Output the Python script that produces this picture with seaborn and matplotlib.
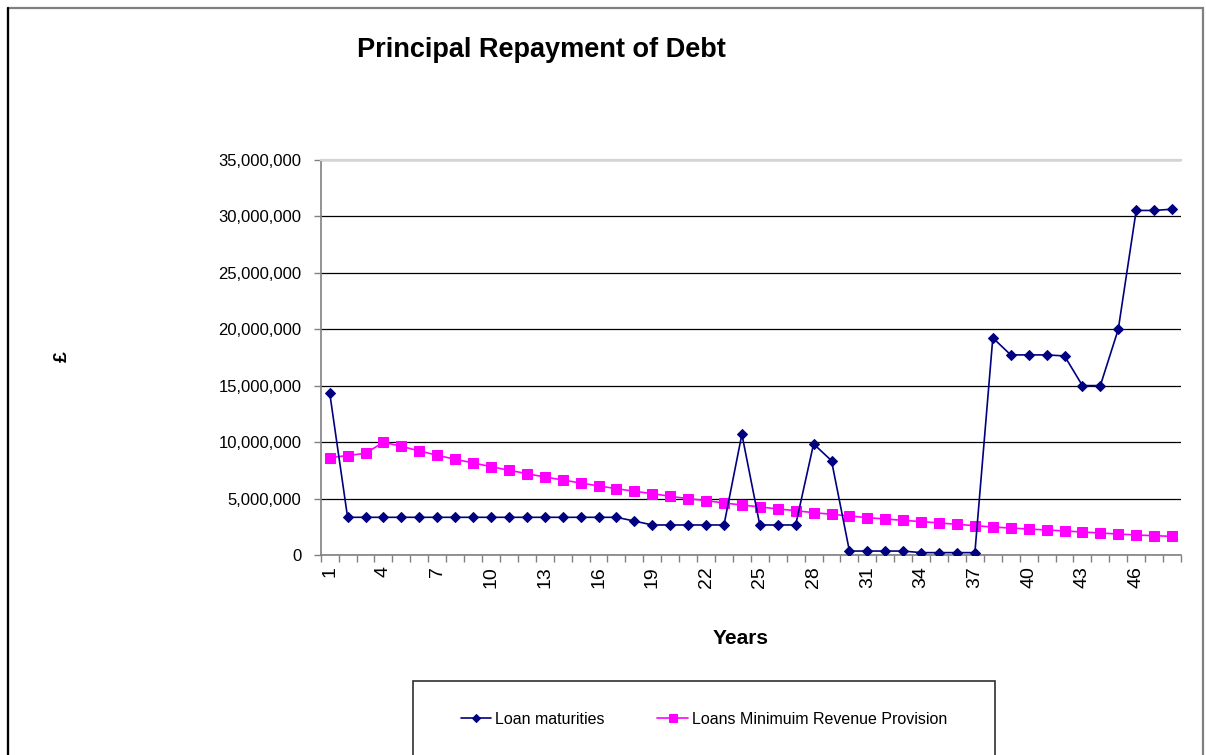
import numpy as np
import pandas as pd
import matplotlib
matplotlib.use('Agg')
import matplotlib.pyplot as plt
import seaborn as sns
from matplotlib.patches import Rectangle
from matplotlib.ticker import FuncFormatter, MultipleLocator

# data (pounds)
years = list(range(1, 49))
loan_maturities = [
    14390000, 3340000, 3340000, 3340000, 3340000, 3340000, 3340000, 3340000,
    3340000, 3340000, 3340000, 3340000, 3340000, 3340000, 3340000, 3340000,
    3340000, 3010000, 2660000, 2660000, 2660000, 2660000, 2660000, 10700000,
    2660000, 2660000, 2660000, 9840000, 8360000, 350000, 350000, 350000,
    350000, 210000, 210000, 210000, 210000, 19240000, 17730000, 17730000,
    17730000, 17640000, 15010000, 15010000, 20000000, 30530000, 30530000, 30640000,
]
loans_mrp = [
    8630000, 8810000, 9010000, 9990000, 9630000, 9220000, 8840000, 8480000,
    8160000, 7830000, 7510000, 7210000, 6910000, 6650000, 6380000, 6120000,
    5880000, 5640000, 5440000, 5200000, 4990000, 4820000, 4610000, 4430000,
    4260000, 4080000, 3930000, 3750000, 3610000, 3460000, 3310000, 3190000,
    3070000, 2960000, 2840000, 2720000, 2600000, 2480000, 2390000, 2300000,
    2220000, 2130000, 2040000, 1950000, 1860000, 1770000, 1710000, 1650000,
]
series_names = ['Loan maturities', 'Loans Minimuim Revenue Provision']
tick_years = [1, 4, 7, 10, 13, 16, 19, 22, 25, 28, 31, 34, 37, 40, 43, 46]

df1 = pd.DataFrame({'Year': years, 'Value': loan_maturities})
df2 = pd.DataFrame({'Year': years, 'Value': loans_mrp})

sns.set_style('white')
plt.rcParams['font.family'] = ['Liberation Sans', 'DejaVu Sans']
plt.rcParams['text.color'] = 'black'

W, H = 1206, 755
fig = plt.figure(figsize=(W / 100, H / 100), dpi=100)
ax = fig.add_axes([320.7 / W, 1 - 555 / H, (1181 - 320.7) / W, (555 - 160) / H])

sns.lineplot(data=df1, x='Year', y='Value', ax=ax, color='#000080', marker='D',
             markersize=5, markeredgecolor='#000080', linewidth=1.2,
             label=series_names[0], zorder=4)
sns.lineplot(data=df2, x='Year', y='Value', ax=ax, color='#FF00FF', marker='s',
             markersize=6.5, markeredgecolor='#FF00FF', linewidth=1.2,
             label=series_names[1], zorder=3)

ax.set_xlim(0.5, 48.5)
ax.set_ylim(0, 35000000)
ax.yaxis.set_major_locator(MultipleLocator(5000000))
ax.yaxis.set_major_formatter(FuncFormatter(lambda v, p: f'{int(v):,}'))
ax.set_xticks(tick_years)
ax.set_xticklabels([str(t) for t in tick_years], rotation=90, fontsize=14)
ax.xaxis.set_minor_locator(MultipleLocator(1, offset=0.5))
ax.tick_params(axis='x', which='major', length=0, pad=8, labelcolor='black')
ax.tick_params(axis='x', which='minor', length=5, width=1, color='#808080', direction='out', bottom=True)
ax.tick_params(axis='y', which='major', length=5, width=1, color='#808080', direction='out', left=True,
               labelsize=12, pad=9, labelcolor='black')
ax.set_xlabel('')
ax.set_ylabel('')

ax.yaxis.grid(True, color='black', linewidth=0.9)
gl = ax.get_ygridlines()
gl[0].set_visible(False)
gl[-1].set_visible(False)

for side in ['left', 'bottom']:
    ax.spines[side].set_color('#808080')
    ax.spines[side].set_linewidth(1.2)
ax.spines['top'].set_color('#d4d4d4')
ax.spines['top'].set_linewidth(1.6)
ax.spines['right'].set_visible(False)

fig.text(541 / W, 1 - 50 / H, 'Principal Repayment of Debt', ha='center', va='center',
         fontsize=19.5, fontweight='bold', color='black')
fig.text(741 / W, 1 - 638 / H, 'Years', ha='center', va='center', fontsize=15, fontweight='bold',
         color='black')
fig.text(62 / W, 1 - 357 / H, '£', ha='center', va='center', fontsize=14, fontweight='bold',
         rotation=90, color='black')

# outer chart frame and legend box
fig.patches.append(Rectangle((8 / W, -0.05), (1203 - 8) / W, 1.05 - 8 / H, transform=fig.transFigure,
                             fill=False, edgecolor='#808080', linewidth=1.6))
fig.add_artist(plt.Line2D([7.5 / W, 7.5 / W], [-0.05, 1 - 8 / H], transform=fig.transFigure,
                          color='black', linewidth=1.6))
fig.patches.append(Rectangle((413 / W, -0.05), (995 - 413) / W, 0.05 + 1 - 681 / H,
                             transform=fig.transFigure, fill=False, edgecolor='#303030', linewidth=1.2))

leg = ax.legend(loc='center', bbox_to_anchor=(704 / W, 1 - 719 / H), bbox_transform=fig.transFigure,
                ncol=2, frameon=False, fontsize=11.5, handlelength=1.9, handletextpad=0.25,
                columnspacing=3.3, markerscale=0.8)
for t in leg.get_texts():
    t.set_color('black')

fig.savefig('out.png', dpi=100)
